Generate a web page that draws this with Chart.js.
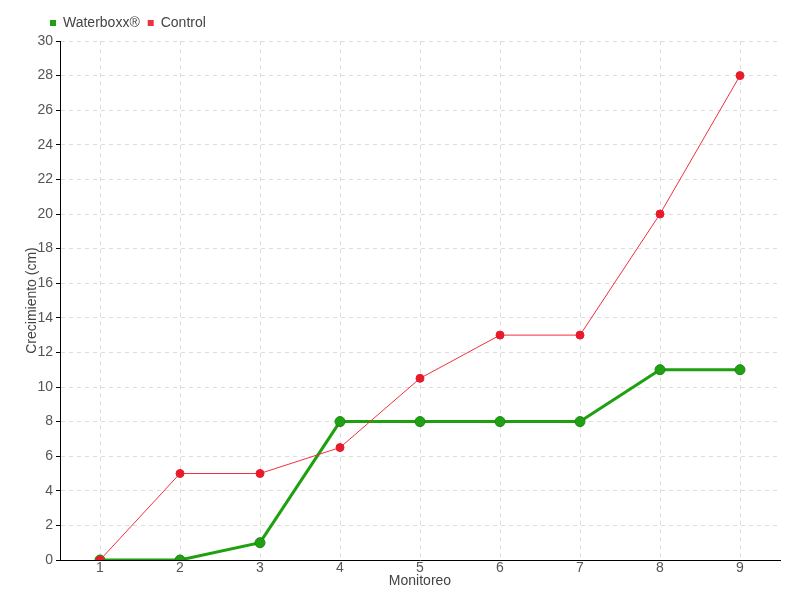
<!DOCTYPE html>
<html><head><meta charset="utf-8">
<script src="https://cdn.jsdelivr.net/npm/chart.js@4/dist/chart.umd.min.js"></script>
<style>html,body{margin:0;padding:0;background:#fff}#wrap{width:800px;height:600px}</style>
</head><body><div id="wrap"><canvas id="c" width="800" height="600"></canvas></div>
<script>
const categories = ['1','2','3','4','5','6','7','8','9'];
const waterboxx = [0,0,1,8,8,8,8,11,11];
const control = [0,5,5,6.5,10.5,13,13,20,28];
const seriesNames = ['Waterboxx®','Control'];
const FONT = "'Liberation Sans','DejaVu Sans',sans-serif";
Chart.defaults.font.family = FONT;
Chart.defaults.font.size = 14;
Chart.defaults.color = '#555';
const legendTweak = {
  id: 'legendTweak',
  beforeInit(chart) {
    const lg = chart.legend;
    const origFit = lg.fit;
    lg.fit = function() { origFit.call(this); this.height += 9; };
  },
  afterLayout(chart) {
    chart.legend.left += 42;
    chart.legend.top += 8;
  }
};
new Chart(document.getElementById('c'), {
  type: 'line',
  data: {
    labels: categories,
    datasets: [
      {label: seriesNames[0], data: waterboxx, borderColor: '#1fa010', backgroundColor: '#1fa010',
       borderWidth: 3, pointRadius: 5, pointBackgroundColor: '#22a015', pointBorderColor: '#178a0c', pointBorderWidth: 1, tension: 0, order: 2},
      {label: seriesNames[1], data: control, borderColor: '#f0303f', backgroundColor: '#ee1c2e',
       borderWidth: 1, pointRadius: 4, pointBackgroundColor: '#e81b2c', pointBorderColor: '#e81b2c', pointBorderWidth: 1, tension: 0, order: 1}
    ]
  },
  plugins: [legendTweak],
  options: {
    responsive: false, animation: false,
    layout: {padding: {left: 0, right: 20, top: 0, bottom: 0}},
    plugins: {
      legend: {position: 'top', align: 'start',
        labels: {boxWidth: 6, boxHeight: 6, padding: 8, color: '#444', font: {size: 14, family: FONT},
          generateLabels: (chart) => chart.data.datasets.map((d,i)=>({text: d.label, fillStyle: d.borderColor, strokeStyle: d.borderColor, lineWidth: 0, datasetIndex: i, fontColor: '#444'}))}},
      tooltip: {enabled: false}
    },
    scales: {
      x: {
        offset: true,
        title: {display: true, text: 'Monitoreo', color: '#444', font: {size: 14}, padding: {top: 0, bottom: 10}},
        grid: {color: '#ddd', drawTicks: false, tickBorderDash: [], offset: false},
        border: {color: '#000', width: 1, dash: [4,4]},
        ticks: {padding: 0, color: '#555'},
        afterFit: (s) => { s.height = 40; }
      },
      y: {
        min: 0, max: 30,
        ticks: {stepSize: 2, padding: 3, color: '#555'},
        title: {display: true, text: 'Crecimiento (cm)', color: '#444', font: {size: 14}, padding: {top: 24, bottom: 0}},
        grid: {color: '#ddd', tickLength: 4, tickColor: '#000', tickBorderDash: [], tickWidth: 1},
        border: {color: '#000', width: 1, dash: [4,4]},
        afterFit: (s) => { s.width = 60; }
      }
    }
  }
});
</script></body></html>
